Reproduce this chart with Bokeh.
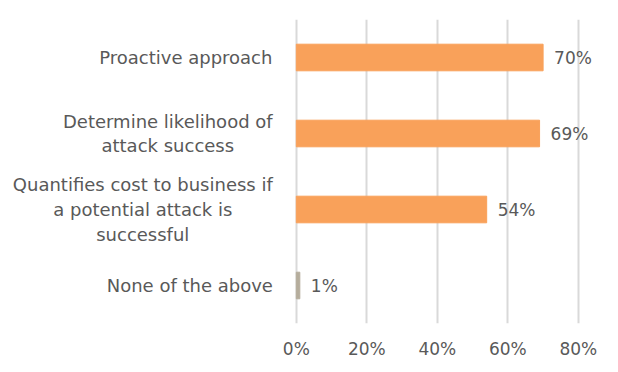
from bokeh.plotting import figure
from bokeh.models import ColumnDataSource, FixedTicker, Range1d, FactorRange, LabelSet
from bokeh.core.properties import value
from bokeh.embed import file_html
from bokeh.resources import INLINE

categories = ["Proactive approach",
              "Determine likelihood of\nattack success",
              "Quantifies cost to business if\na potential attack is\nsuccessful",
              "None of the above"]
values = [70, 69, 54, 1]
value_labels = ["70%", "69%", "54%", "1%"]
bar_colors = ["#F9A15A", "#F9A15A", "#F9A15A", "#B5AD9C"]
x_ticks = [0, 20, 40, 60, 80]
x_tick_labels = {0: "0%", 20: "20%", 40: "40%", 60: "60%", 80: "80%"}

# layout only: horizontal centre of each category label block, px left of the 0% line
cat_label_offsets = [-110.5, -128.5, -153.5, -106.5]

FONT = "DejaVu Sans"
TEXT = "#595959"

src = ColumnDataSource(dict(cat=categories, val=values, lab=value_labels, col=bar_colors,
                            zero=[0] * len(categories), off=cat_label_offsets))

# frame spans the whole width; the label column lives at negative x (no grid there)
p = figure(width=610, height=364, output_backend="svg", toolbar_location=None,
           y_range=FactorRange(*categories[::-1], range_padding=0),
           x_range=Range1d(-83.9, 87.7))
p.min_border_left = 0
p.min_border_right = 5
p.min_border_top = 19
p.min_border_bottom = 41
p.outline_line_color = None
p.background_fill_color = "white"
p.border_fill_color = "white"

p.hbar(y="cat", right="val", left=0, height=0.35, color="col", source=src)

labels = LabelSet(x="val", y="cat", text="lab", source=src, x_offset=11, y_offset=0,
                  text_baseline="middle", text_color=TEXT, text_font=value(FONT),
                  text_font_size="17px")
p.add_layout(labels)

p.text(x="zero", y="cat", text="cat", source=src, x_offset="off",
       text_align="center", text_baseline="middle", text_color=TEXT,
       text_font=value(FONT), text_font_size="18px", text_line_height=1.18)

p.xaxis.ticker = FixedTicker(ticks=x_ticks)
p.xaxis.major_label_overrides = x_tick_labels
p.xaxis.axis_line_color = None
p.xaxis.major_tick_line_color = None
p.xaxis.minor_tick_line_color = None
p.xaxis.major_tick_out = 0
p.xaxis.major_tick_in = 0
p.xaxis.major_label_standoff = 15
p.xaxis.major_label_text_font = FONT
p.xaxis.major_label_text_font_size = "17px"
p.xaxis.major_label_text_color = TEXT

p.yaxis.visible = False

p.xgrid.ticker = FixedTicker(ticks=x_ticks)
p.xgrid.grid_line_color = "#D9D9D9"
p.xgrid.grid_line_width = 2
p.ygrid.grid_line_color = None

open("out.html", "w").write(file_html(p, INLINE))
